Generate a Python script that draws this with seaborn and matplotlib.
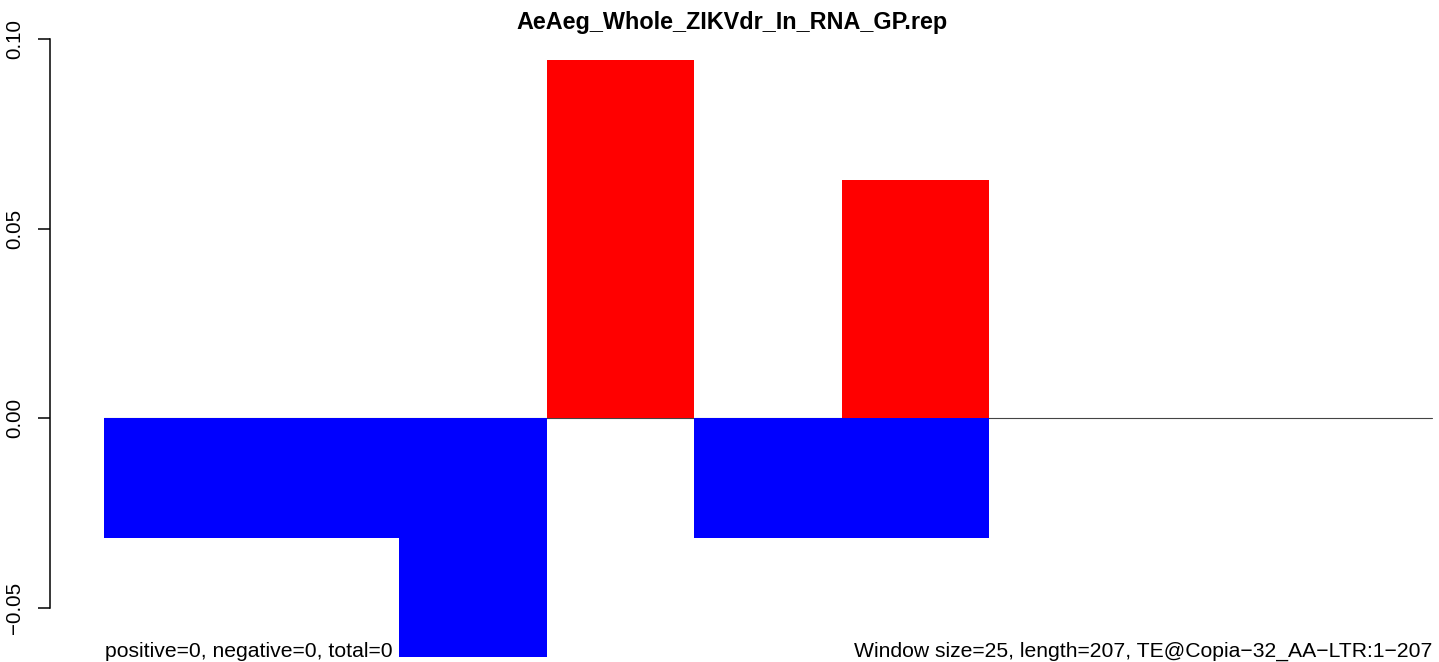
import numpy as np
import pandas as pd
import matplotlib
matplotlib.use("Agg")
import matplotlib.pyplot as plt
import seaborn as sns

# Données (fenêtres de 25 pb)
fenetres = ["1", "2", "3", "4", "5", "6", "7", "8", "9"]
positif = [0.0, 0.0, 0.0, 0.0945, 0.0, 0.063, 0.0, 0.0, 0.0]
negatif = [-0.0315, -0.0315, -0.063, 0.0, -0.0315, -0.0315, 0.0, 0.0, 0.0]
yticks = [-0.05, 0.0, 0.05, 0.10]
ytick_labels = ["\u22120.05", "0.00", "0.05", "0.10"]

titre = "AeAeg_Whole_ZIKVdr_In_RNA_GP.rep"
texte_gauche = "positive=0, negative=0, total=0"
texte_droite = "Window size=25, length=207, TE@Copia\u221232_AA\u2212LTR:1\u2212207"

sns.set_theme(style="white")
plt.rcParams["font.family"] = ["Liberation Sans", "DejaVu Sans"]
plt.rcParams["text.color"] = "black"
plt.rcParams["ytick.color"] = "black"
plt.rcParams["ytick.labelcolor"] = "black"

W, H = 1439, 662
fig = plt.figure(figsize=(W / 100, H / 100), dpi=100)

# axes couvrant toute la hauteur, bord gauche sur l'axe y
x_gauche = 50
ax = fig.add_axes([x_gauche / W, 0, 1 - x_gauche / W, 1])

df = pd.DataFrame({"fenetre": fenetres, "positif": positif, "negatif": negatif})

# ligne du zéro, sous les barres
ax.plot([-0.5, len(fenetres) - 0.5], [0, 0], color="#444444", lw=0.8, zorder=0)

sns.barplot(data=df, x="fenetre", y="positif", color="#ff0000", saturation=1,
            width=1, linewidth=0, ax=ax, zorder=2)
sns.barplot(data=df, x="fenetre", y="negatif", color="#0000ff", saturation=1,
            width=1, linewidth=0, ax=ax, zorder=2)

# échelle : 0 à y=418.3 px, 3790 px par unité ; barres de 104 à 1432 px
px_unite_x = (1432 - 104) / len(fenetres)
ax.set_xlim(-0.5 - (104 - x_gauche) / px_unite_x,
            len(fenetres) - 0.5 + (W - 1432) / px_unite_x)
ax.set_ylim(-(H - 418.3) / 3790, 418.3 / 3790)

for cote in ["top", "right", "bottom"]:
    ax.spines[cote].set_visible(False)
ax.spines["left"].set_bounds(-0.05, 0.10)
ax.spines["left"].set_linewidth(1.1)
ax.spines["left"].set_color("black")

ax.set_xticks([])
ax.set_xlabel("")
ax.set_ylabel("")
ax.set_yticks(yticks)
ax.set_yticklabels(ytick_labels, rotation=90, va="center", fontsize=14.8,
                   color="black")
ax.tick_params(axis="y", direction="out", length=8.6, width=1.1,
               color="black", pad=10, left=True)

fig.text(732 / W, 1 - 22 / H, titre, ha="center", va="center",
         fontsize=16.8, fontweight="bold", color="black")
fig.text(105 / W, 1 - 657 / H, texte_gauche, ha="left", va="baseline",
         fontsize=15.2, color="black")
fig.text(1432 / W, 1 - 657 / H, texte_droite, ha="right", va="baseline",
         fontsize=15.2, color="black")

fig.savefig("out.png", dpi=100, facecolor="white")
